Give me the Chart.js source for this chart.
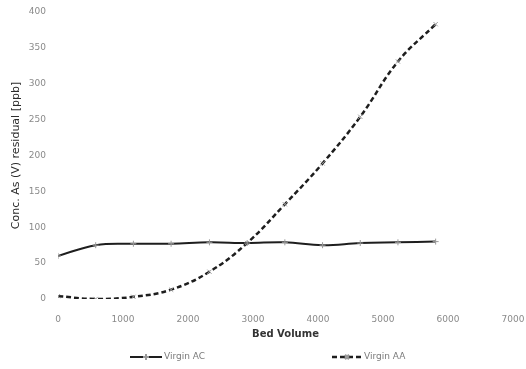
<!DOCTYPE html>
<html>
<head>
<meta charset="utf-8">
<script src="https://cdn.jsdelivr.net/npm/chart.js@4"></script>
<style>
  html, body { margin: 0; padding: 0; background: #fff; }
  #wrap { width: 526px; height: 369px; }
</style>
</head>
<body>
<div id="wrap"><canvas id="c" width="526" height="369"></canvas></div>
<script>
// Bed volumes at which samples were taken
const bedVolumes = [0, 580, 1160, 1740, 2330, 2910, 3490, 4070, 4650, 5230, 5810];
// Residual As(V) concentration, ppb
const virginAC = [60, 75, 77, 77, 79, 78, 79, 75, 78, 79, 80];
const virginAA = [4, 0, 3, 13, 38, 78, 132, 189, 254, 331, 383];
const seriesNames = ['Virgin AC', 'Virgin AA'];
const xTicks = [0, 1000, 2000, 3000, 4000, 5000, 6000, 7000];
const yTicks = [0, 50, 100, 150, 200, 250, 300, 350, 400];

const toPoints = (ys) => bedVolumes.map((x, i) => ({ x, y: ys[i] }));

// Legend drawn below the axis title with wide spacing between entries
const bottomLegend = {
  id: 'bottomLegend',
  afterDraw(chart) {
    const ctx = chart.ctx;
    const y = 357;
    const slots = [{ x0: 130, x1: 162 }, { x0: 332, x1: 362 }];
    chart.data.datasets.forEach((ds, i) => {
      const s = slots[i];
      ctx.save();
      ctx.strokeStyle = ds.borderColor;
      ctx.lineWidth = ds.borderWidth;
      ctx.setLineDash(ds.borderDash || []);
      ctx.beginPath();
      ctx.moveTo(s.x0, y);
      ctx.lineTo(s.x1, y);
      ctx.stroke();
      ctx.setLineDash([]);
      ctx.strokeStyle = ds.pointBorderColor;
      Chart.helpers.drawPoint(ctx, {
        pointStyle: ds.pointStyle,
        radius: ds.pointRadius,
        borderWidth: ds.pointBorderWidth
      }, (s.x0 + s.x1) / 2, y);
      ctx.fillStyle = '#7a7a7a';
      ctx.font = '9px "DejaVu Sans"';
      ctx.textBaseline = 'middle';
      ctx.textAlign = 'left';
      ctx.fillText(ds.label, s.x1 + 2, y);
      ctx.restore();
    });
  }
};

const plainNumber = (v) => String(v);

new Chart(document.getElementById('c'), {
  type: 'line',
  data: {
    datasets: [
      {
        label: seriesNames[0],
        data: toPoints(virginAC),
        borderColor: '#1e1e1e',
        borderWidth: 2,
        tension: 0.4,
        pointStyle: 'cross',
        pointRadius: 3,
        pointBorderWidth: 1,
        pointBorderColor: '#9a9a9a',
        pointBackgroundColor: '#9a9a9a'
      },
      {
        label: seriesNames[1],
        data: toPoints(virginAA),
        borderColor: '#1e1e1e',
        borderWidth: 2.5,
        borderDash: [5, 3],
        tension: 0.4,
        pointStyle: 'crossRot',
        pointRadius: 3,
        pointBorderWidth: 1,
        pointBorderColor: '#9a9a9a',
        pointBackgroundColor: '#9a9a9a'
      }
    ]
  },
  options: {
    responsive: false,
    animation: false,
    layout: { padding: { left: 0, top: 12, right: 13, bottom: 22 } },
    plugins: {
      legend: { display: false },
      tooltip: { enabled: false }
    },
    scales: {
      x: {
        type: 'linear',
        min: 0,
        max: 7000,
        afterBuildTicks(scale) { scale.ticks = xTicks.map(v => ({ value: v })); },
        afterFit(scale) {
          scale.height = 48;
          scale.paddingLeft = 0;
          scale.paddingRight = 0;
        },
        grid: { display: false, drawTicks: false },
        border: { display: false },
        ticks: {
          padding: 15,
          maxRotation: 0,
          color: '#8a8a8a',
          font: { family: 'DejaVu Sans', size: 9 },
          callback: plainNumber
        },
        title: {
          display: true,
          text: 'Bed Volume',
          color: '#333',
          font: { family: 'DejaVu Sans', size: 10, weight: 'bold' },
          padding: { top: 0, bottom: 7 }
        }
      },
      y: {
        min: 0,
        max: 400,
        afterBuildTicks(scale) { scale.ticks = yTicks.map(v => ({ value: v })); },
        afterFit(scale) {
          scale.width = 58;
          scale.paddingTop = 0;
          scale.paddingBottom = 0;
        },
        grid: { display: false, drawTicks: false },
        border: { display: false },
        ticks: {
          padding: 12,
          color: '#8a8a8a',
          font: { family: 'DejaVu Sans', size: 9 },
          callback: plainNumber
        },
        title: {
          display: true,
          text: 'Conc. As (V) residual [ppb]',
          color: '#2a2a2a',
          font: { family: 'DejaVu Sans', size: 11 },
          padding: { top: 10, bottom: 0 }
        }
      }
    }
  },
  plugins: [bottomLegend]
});
</script>
</body>
</html>
